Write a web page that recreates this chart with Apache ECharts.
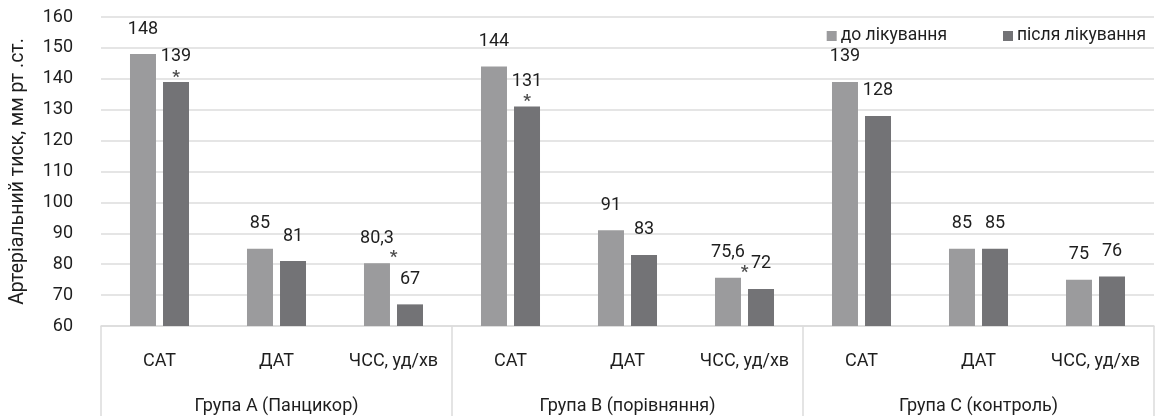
<!DOCTYPE html>
<html>
<head>
<meta charset="utf-8">
<script src="https://cdn.jsdelivr.net/npm/echarts@6/dist/echarts.min.js"></script>
<style>
  html, body { margin: 0; padding: 0; background: #fff; }
  #chart { width: 1162px; height: 416px; }
</style>
</head>
<body>
<div id="chart"></div>
<script>
// Indicators within each group and the groups themselves
const indicators = ['САТ', 'ДАТ', 'ЧСС, уд/хв'];
const groups = ['Група А (Панцикор)', 'Група В (порівняння)', 'Група С (контроль)'];
const categories = [
  'САТ', 'ДАТ', 'ЧСС, уд/хв',
  'САТ', 'ДАТ', 'ЧСС, уд/хв',
  'САТ', 'ДАТ', 'ЧСС, уд/хв'
];
const seriesNames = ['до лікування', 'після лікування'];
const beforeValues = [148, 85, 80.3, 144, 91, 75.6, 139, 85, 75];
const afterValues  = [139, 81, 67, 131, 83, 72, 128, 85, 76];
// Significant changes (*): category index and which bar carries the mark
const sigCategoryIdx = [0, 2, 3, 5];
const sigAnchor = ['after', 'before', 'after', 'before'];
const yTicks = { min: 60, max: 160, interval: 10 };
const yAxisTitle = 'Артеріальний тиск, мм рт .ст.';

const FONT = 'Roboto, "DejaVu Sans", sans-serif';
const TEXT = '#1e1e1e';
const GRIDC = '#dcdcdc';
const fmt = v => String(v).replace('.', ',');
const txt = (size) => ({ fontFamily: FONT, fontSize: size, color: TEXT });

const sigData = sigCategoryIdx.map((ci, k) => {
  const isAfter = sigAnchor[k] === 'after';
  const v = isAfter ? afterValues[ci] : beforeValues[ci];
  return {
    value: [ci, v],
    label: { offset: isAfter ? [16.5, 4] : [0, 3] }
  };
});

const chart = echarts.init(document.getElementById('chart'), null, { renderer: 'canvas' });
chart.setOption({
  animation: false,
  textStyle: { fontFamily: FONT },
  grid: { left: 101, right: 8, top: 17, bottom: 90, containLabel: false },
  legend: {
    right: 11, top: 22,
    itemWidth: 10, itemHeight: 10, itemGap: 56,
    icon: 'rect',
    textStyle: Object.assign(txt(17.5), { padding: [0, 0, 0, -1] }),
    data: seriesNames
  },
  xAxis: [
    {
      type: 'category',
      data: categories,
      axisLine: { show: true, lineStyle: { color: GRIDC, width: 1.5 } },
      axisTick: { show: false },
      axisLabel: Object.assign(txt(18), { margin: 26, interval: 0 })
    },
    {
      type: 'category',
      data: groups,
      position: 'bottom',
      axisLine: { show: false },
      axisTick: { show: true, length: 92, interval: 0, lineStyle: { color: GRIDC, width: 1.5 } },
      axisLabel: Object.assign(txt(18), { margin: 71, interval: 0 }),
      splitLine: { show: false }
    }
  ],
  yAxis: {
    type: 'value',
    min: yTicks.min, max: yTicks.max, interval: yTicks.interval,
    name: yAxisTitle,
    nameLocation: 'middle',
    nameGap: 73,
    nameTextStyle: txt(19.5),
    axisLine: { show: false },
    axisTick: { show: false },
    axisLabel: Object.assign(txt(18), { margin: 28 }),
    splitLine: { lineStyle: { color: GRIDC, width: 1.5 } }
  },
  series: [
    {
      name: seriesNames[0], type: 'bar', xAxisIndex: 0,
      data: beforeValues, barWidth: 26, barGap: '27%',
      itemStyle: { color: '#9b9b9d' },
      label: Object.assign(txt(18), { show: true, position: 'top', distance: 16, formatter: p => fmt(p.value) })
    },
    {
      name: seriesNames[1], type: 'bar', xAxisIndex: 0,
      data: afterValues, barWidth: 26,
      itemStyle: { color: '#737376' },
      label: Object.assign(txt(18), { show: true, position: 'top', distance: 16, formatter: p => fmt(p.value) })
    },
    {
      name: 'sig', type: 'scatter', xAxisIndex: 0,
      data: sigData, symbolSize: 0, silent: true,
      label: { show: true, position: 'top', distance: 0, formatter: '*',
               fontFamily: FONT, fontSize: 17, fontWeight: 'bold', color: TEXT }
    }
  ]
});
</script>
</body>
</html>
